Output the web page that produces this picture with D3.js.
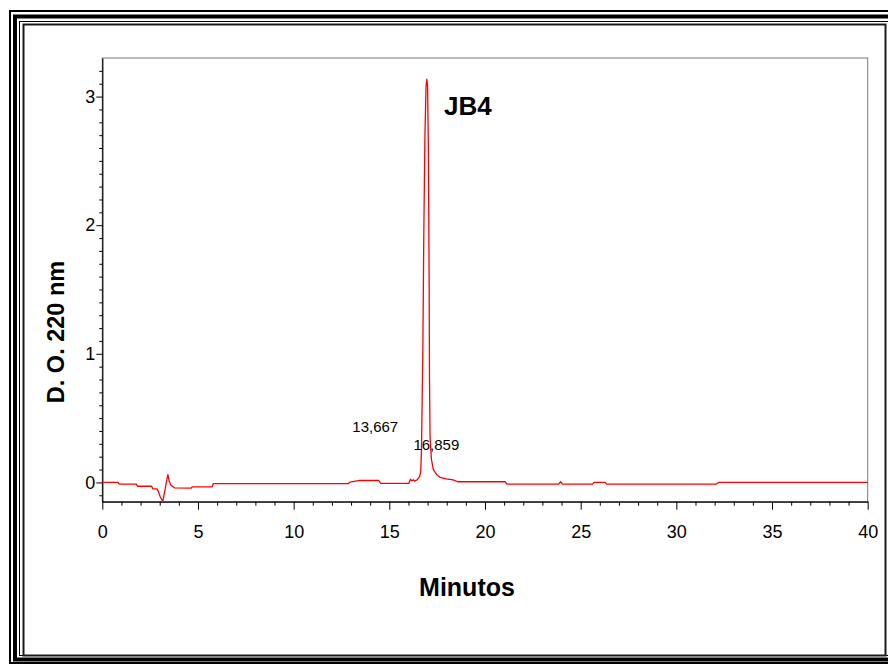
<!DOCTYPE html>
<html>
<head>
<meta charset="utf-8">
<script src="https://cdn.jsdelivr.net/npm/d3@7"></script>
<style>
  body { margin: 0; background: #fff; }
  svg { display: block; }
  text { font-family: "Liberation Sans", Arial, sans-serif; }
</style>
</head>
<body>
<svg id="cromatograma"></svg>
<script>
// Chromatogram trace (minutes, absorbance at 220 nm)
const tiempo = [
  0, 0.82, 0.88, 1.78, 1.84, 2.58, 2.64, 2.86, 2.93, 3.02, 3.16, 3.28, 3.37, 3.43, 3.49, 3.57, 3.76,
  4.64, 4.7, 5.74, 5.8, 12.85, 12.95, 13.45, 14.45, 14.55, 16.02, 16.1, 16.18, 16.25, 16.32, 16.45,
  16.58, 16.64, 16.68, 16.75, 16.8, 16.86, 16.92, 16.96, 17.0, 17.04, 17.08, 17.1, 17.13, 17.2, 17.3,
  17.48, 17.65, 17.96, 18.33, 18.5, 18.6, 21.05, 21.15, 23.85, 23.95, 24.05, 25.62, 25.7, 26.28, 26.36,
  32.1, 32.2, 40
];
const absorbancia = [
  0, 0, -0.013, -0.013, -0.03, -0.03, -0.05, -0.05, -0.07, -0.11, -0.148, -0.057, 0.02, 0.06, 0.013, -0.018, -0.042,
  -0.045, -0.035, -0.035, -0.01, -0.01, 0.003, 0.015, 0.015, -0.008, -0.008, 0.025, 0.012, 0.02, 0.01, 0.02,
  0.045, 0.08, 0.25, 1.0, 1.9, 2.7, 3.08, 3.135, 3.08, 2.6, 1.6, 0.8, 0.35, 0.18, 0.1,
  0.06, 0.04, 0.028, 0.02, 0.01, 0.005, 0.005, -0.013, -0.013, 0.005, -0.013, -0.013, 0, 0, -0.013,
  -0.013, 0, 0
];

// Axis ticks
const xTicks = [0, 5, 10, 15, 20, 25, 30, 35, 40];
const yTicks = [0, 1, 2, 3];

// Peak annotations
const picoTiempo = [13.667, 16.859];
const picoTexto = ["13,667", "16,859"];
const picoAltura = [0.39, 0.25];

const svg_width = 888;
const svg_height = 664;

const svg = d3.select("#cromatograma")
  .attr("width", svg_width)
  .attr("height", svg_height);

// Page frame (thin - thick - thin) and chart border
const frame = svg.append("g").attr("fill", "none").attr("stroke", "#000");
frame.append("rect").attr("x", 10).attr("y", 11).attr("width", 900).attr("height", 652).attr("stroke-width", 2);
frame.append("rect").attr("x", 15).attr("y", 16.5).attr("width", 900).attr("height", 643).attr("stroke-width", 4);
frame.append("rect").attr("x", 19.5).attr("y", 21.5).attr("width", 900).attr("height", 634).attr("stroke-width", 1);
frame.append("rect").attr("x", 23.5).attr("y", 24.5).attr("width", 862).attr("height", 631)
  .attr("stroke", "#1a1a1a").attr("stroke-width", 2);

// Plot area
const plot = { left: 102.3, right: 867.7, top: 58, bottom: 501.7 };

const xScale = d3.scaleLinear()
  .domain([0, 40])
  .range([plot.left, plot.right]);

const yScale = d3.scaleLinear()
  .domain([-0.15, 3.3])
  .range([plot.bottom, plot.top]);

// Gray plot box (top and right)
svg.append("rect")
  .attr("x", plot.left).attr("y", plot.top)
  .attr("width", plot.right - plot.left).attr("height", plot.bottom - plot.top)
  .attr("fill", "none").attr("stroke", "#7a7a7a").attr("stroke-width", 1);

// Minor ticks
const xMinor = d3.range(0, 40.01, 1).filter(v => v % 5 !== 0);
const yMinor = d3.range(-1, 33, 1).map(v => v / 10).filter(v => Math.round(v * 10) % 10 !== 0);

svg.append("g")
  .attr("transform", `translate(0, ${plot.bottom})`)
  .call(d3.axisBottom(xScale).tickValues(xMinor).tickSize(4).tickSizeOuter(0).tickFormat(""))
  .call(g => g.select(".domain").remove());

svg.append("g")
  .attr("transform", `translate(${plot.left}, 0)`)
  .call(d3.axisLeft(yScale).tickValues(yMinor).tickSize(3).tickSizeOuter(0).tickFormat(""))
  .call(g => g.select(".domain").remove());

// Major axes
const xAxis = svg.append("g")
  .attr("transform", `translate(0, ${plot.bottom})`)
  .call(d3.axisBottom(xScale).tickValues(xTicks).tickSize(8).tickSizeOuter(0).tickPadding(16));
xAxis.selectAll("text").attr("font-size", 18).attr("fill", "#000").style("font-family", "Liberation Sans, Arial, sans-serif");

const yAxis = svg.append("g")
  .attr("transform", `translate(${plot.left}, 0)`)
  .call(d3.axisLeft(yScale).tickValues(yTicks).tickFormat(d3.format("d")).tickSize(6).tickSizeOuter(0).tickPadding(1));
yAxis.selectAll("text").attr("font-size", 18).attr("fill", "#000").style("font-family", "Liberation Sans, Arial, sans-serif");

svg.selectAll(".domain").attr("stroke", "#000").attr("stroke-width", 1.2);

// Trace
const traza = tiempo.map((t, i) => ({ t: t, a: absorbancia[i] }));
const line = d3.line()
  .x(d => xScale(d.t))
  .y(d => yScale(d.a));

svg.append("path")
  .datum(traza)
  .attr("d", line)
  .attr("fill", "none")
  .attr("stroke", "#ff0000")
  .attr("stroke-width", 1.3)
  .attr("stroke-linejoin", "round");

// Peak labels
svg.selectAll(".pico")
  .data(picoTiempo)
  .enter()
  .append("text")
  .attr("class", "pico")
  .attr("x", d => xScale(d) - 11.5)
  .attr("y", (d, i) => yScale(picoAltura[i]))
  .attr("font-size", 15)
  .text((d, i) => picoTexto[i]);

svg.append("text")
  .attr("x", 444)
  .attr("y", 115)
  .attr("font-size", 26)
  .attr("font-weight", "bold")
  .text("JB4");

// Axis titles
svg.append("text")
  .attr("x", 467)
  .attr("y", 596)
  .attr("text-anchor", "middle")
  .attr("font-size", 25)
  .attr("font-weight", "bold")
  .text("Minutos");

svg.append("text")
  .attr("transform", "translate(64, 332) rotate(-90)")
  .attr("text-anchor", "middle")
  .attr("font-size", 23.5)
  .attr("font-weight", "bold")
  .text("D. O. 220 nm");
</script>
</body>
</html>
